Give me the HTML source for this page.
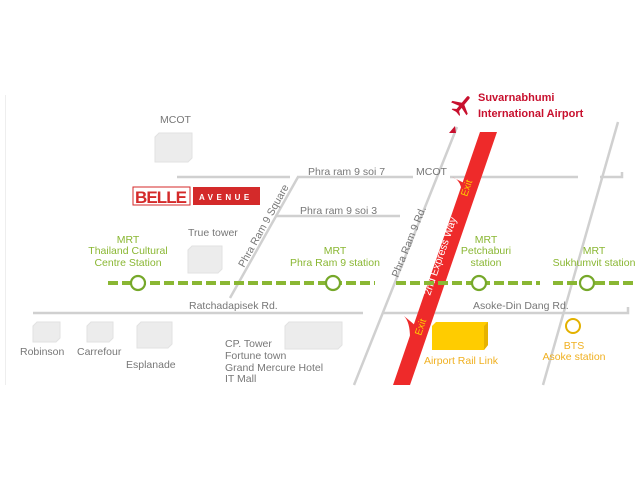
<!DOCTYPE html>
<html><head><meta charset="utf-8"><style>
html,body{margin:0;padding:0;background:#fff;width:640px;height:480px;overflow:hidden}
svg{display:block;font-family:"Liberation Sans",sans-serif}
</style></head><body>
<svg width="640" height="480" viewBox="0 0 640 480">
<rect width="640" height="480" fill="#fff"/>
<line x1="5.5" y1="95" x2="5.5" y2="385" stroke="#eee" stroke-width="1"/>
<g stroke="#d0d0d0" stroke-width="2.5" fill="none">
<line x1="177" y1="177" x2="290" y2="177"/>
<line x1="297" y1="177" x2="413" y2="177"/>
<line x1="450" y1="177" x2="578" y2="177"/>
<polyline points="600,177 622,177 622,172"/>
<line x1="298" y1="177" x2="230" y2="298"/>
<line x1="275" y1="216" x2="400" y2="216"/>
<line x1="457" y1="127" x2="354" y2="385"/>
<line x1="618" y1="122" x2="543" y2="385"/>
<line x1="33" y1="313" x2="363" y2="313"/>
<polyline points="383,313 628,313 628,307"/>
</g>
<g fill="#777" font-size="10.5">
<text x="160" y="123">MCOT</text>
<text x="308" y="175">Phra ram 9 soi 7</text>
<text x="416" y="175">MCOT</text>
<text x="300" y="214">Phra ram 9 soi 3</text>
<text x="188" y="236">True tower</text>
<text x="189" y="309">Ratchadapisek Rd.</text>
<text x="473" y="309">Asoke-Din Dang Rd.</text>
<text x="20" y="355">Robinson</text>
<text x="77" y="355">Carrefour</text>
<text x="126" y="368">Esplanade</text>
<text x="225" y="347">CP. Tower</text>
<text x="225" y="359">Fortune town</text>
<text x="225" y="371">Grand Mercure Hotel</text>
<text x="225" y="382">IT Mall</text>
<text transform="translate(244,268) rotate(-61)">Phra Ram 9 Square</text>
<text transform="translate(398,278) rotate(-68)">Phra Ram 9 Rd.</text>
</g>
<g fill="#ececec" stroke="#e2e2e2" stroke-width="1">
<path d="M155,137 L159,133 L192,133 L192,158 L188,162 L155,162 Z"/>
<path d="M188,250 L192,246 L222,246 L222,269 L218,273 L188,273 Z"/>
<path d="M33,326 L37,322 L60,322 L60,338 L56,342 L33,342 Z"/>
<path d="M87,326 L91,322 L113,322 L113,338 L109,342 L87,342 Z"/>
<path d="M137,326 L141,322 L172,322 L172,344 L168,348 L137,348 Z"/>
<path d="M285,326 L289,322 L342,322 L342,345 L338,349 L285,349 Z"/>
</g>
<rect x="133" y="187" width="57" height="18" fill="#fff" stroke="#d42a2a"/>
<text x="135" y="203" fill="#d42a2a" font-size="17" font-weight="bold" textLength="52">BELLE</text>
<rect x="193" y="187" width="67" height="18" fill="#d42a2a"/>
<text x="199" y="200" fill="#fff" font-size="8" font-weight="bold" letter-spacing="3.5">AVENUE</text>
<path d="M480,132 L497,132 L410,385 L393,385 Z" fill="#ee2a2a"/>
<path d="M452,177 Q462,180 462,196 L466,184 Z" fill="#ee2a2a"/>
<path d="M404,316 Q410,322 410,338 L416,326 Z" fill="#ee2a2a"/>
<text transform="translate(430,296) rotate(-71)" fill="#fff" font-size="10.5">2nd Express Way</text>
<text transform="translate(467,197) rotate(-71)" fill="#ffcc00" font-size="10">Exit</text>
<text transform="translate(421,336) rotate(-71)" fill="#ffcc00" font-size="10">Exit</text>
<path d="M449,133 L455,126 L456,133 Z" fill="#c8102e"/>
<g transform="translate(462,105) rotate(40)" fill="#c8102e">
<rect x="-1.6" y="-11" width="3.2" height="20" rx="1.6"/>
<path d="M-1,-2 L-10,3 L-10,5 L0,2 L10,5 L10,3 L1,-2 Z"/>
<path d="M-1,6 L-5,9 L-5,10 L0,9 L5,10 L5,9 L1,6 Z"/>
</g>
<text x="478" y="101" fill="#c8102e" font-size="11" font-weight="bold">Suvarnabhumi</text>
<text x="478" y="117" fill="#c8102e" font-size="11" font-weight="bold">International Airport</text>
<g stroke="#8ab733" stroke-width="4" stroke-dasharray="10,4">
<line x1="108" y1="283" x2="375" y2="283"/>
<line x1="396" y1="283" x2="540" y2="283"/>
<line x1="553" y1="283" x2="636" y2="283"/>
</g>
<g fill="#fff" stroke="#76a82a" stroke-width="2.2">
<circle cx="138" cy="283" r="7"/><circle cx="333" cy="283" r="7"/>
<circle cx="479" cy="283" r="7"/><circle cx="587" cy="283" r="7"/>
</g>
<g fill="#8ab733" font-size="10.5" text-anchor="middle">
<text x="128" y="243">MRT</text><text x="128" y="254">Thailand Cultural</text><text x="128" y="266">Centre Station</text>
<text x="335" y="254">MRT</text><text x="335" y="266">Phra Ram 9 station</text>
<text x="486" y="243">MRT</text><text x="486" y="254">Petchaburi</text><text x="486" y="266">station</text>
<text x="594" y="254">MRT</text><text x="594" y="266">Sukhumvit station</text>
</g>
<path d="M432,326 L436,322 L488,322 L488,345 L484,350 L432,350 Z" fill="#ffcc00"/>
<path d="M484,350 L488,345 L488,322 L484,326 Z" fill="#e6b200"/>
<circle cx="573" cy="326" r="7" fill="none" stroke="#e3b100" stroke-width="2"/>
<g fill="#f0b020" font-size="10.5" text-anchor="middle">
<text x="461" y="364">Airport Rail Link</text>
<text x="574" y="349">BTS</text><text x="574" y="360">Asoke station</text>
</g>
</svg>
</body></html>
